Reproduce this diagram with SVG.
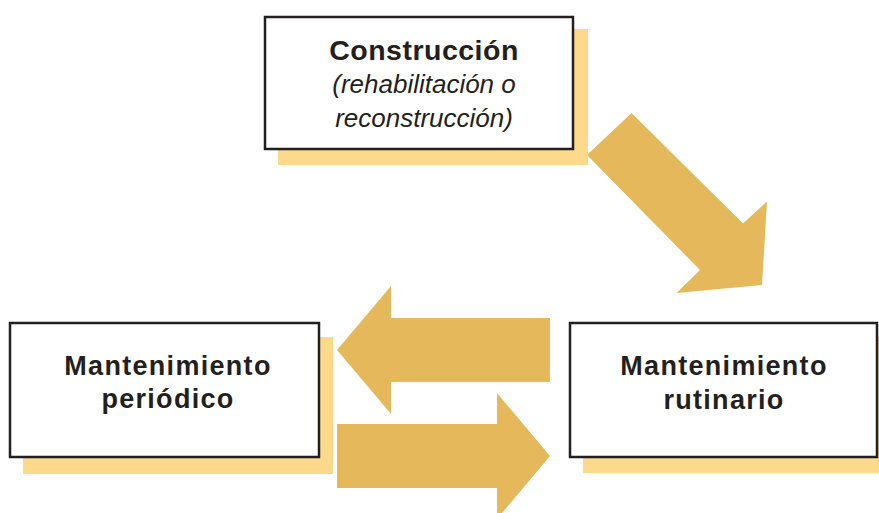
<svg xmlns="http://www.w3.org/2000/svg" width="879" height="513" viewBox="0 0 879 513">
<style>
.shadow{fill:#fdd98c}
.box{fill:#ffffff;stroke:#231f20;stroke-width:2.5}
.arrow{fill:#e5b95b}
.t{font-family:"Liberation Sans",Arial,sans-serif;fill:#231f20;text-anchor:middle}
.b{font-weight:bold;font-size:27px;letter-spacing:1.3px}
.h{font-weight:bold;font-size:28.5px;letter-spacing:0.5px}
.i{font-style:italic;font-size:26px}
</style>
<rect width="879" height="513" fill="#ffffff"/>
<g id="connectors">
<polygon class="arrow" points="631.5,113 587,155 700,270 676.5,293 762,285 767,201.5 743,223.5"/>
<polygon class="arrow" points="550,318 391,318 391,286 337,350 391,414 391,382 550,382"/>
<polygon class="arrow" points="337,424 497,424 497,393 550,456 497,519 497,488 337,488"/>
</g>
<g id="construccion">
<rect class="shadow" x="278" y="29" width="310" height="136"/>
<rect class="box" x="265" y="17" width="308" height="132"/>
<text class="t h" x="424" y="60">Construcción</text>
<text class="t i" x="424" y="93">(rehabilitación o</text>
<text class="t i" x="424" y="127">reconstrucción)</text>
</g>
<g id="periodico">
<rect class="shadow" x="23" y="337" width="310" height="137"/>
<rect class="box" x="10" y="323" width="309" height="134"/>
<text class="t b" x="168" y="375">Mantenimiento</text>
<text class="t b" x="168" y="408">periódico</text>
</g>
<g id="rutinario">
<rect class="shadow" x="583" y="337" width="296" height="136"/>
<rect class="box" x="570" y="323" width="307" height="134"/>
<text class="t b" x="724" y="375">Mantenimiento</text>
<text class="t b" x="724" y="409">rutinario</text>
</g>
</svg>
